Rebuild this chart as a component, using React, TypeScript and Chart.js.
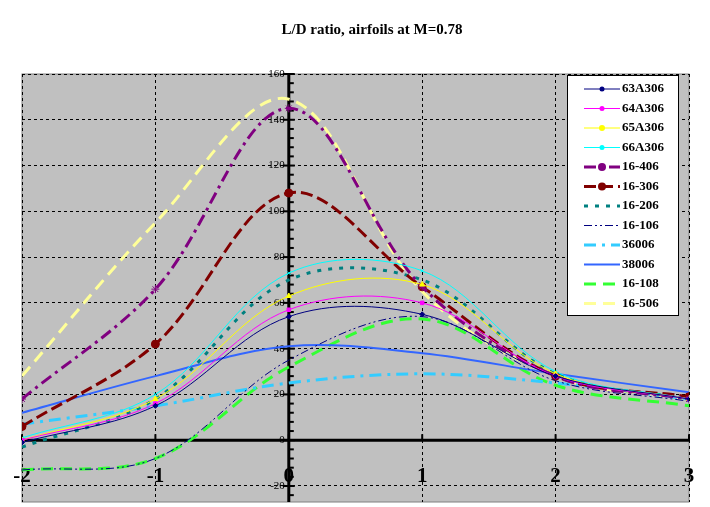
import React, { useEffect, useRef } from "react";
import { Chart, registerables } from "chart.js";
Chart.register(...registerables);

const xs = [-2, -1, 0, 1, 2, 3];
const names = ["63A306","64A306","65A306","66A306","16-406","16-306","16-206","16-106","36006","38006","16-108","16-506"];
const v63A306 = [-1, 15, 54, 55, 28, 18];
const v64A306 = [0, 16, 57, 60, 28, 18];
const v65A306 = [0, 18, 63, 68, 29, 18];
const v66A306 = [1, 20, 73, 74, 30, 18];
const v16_406 = [18, 66, 145, 67, 28, 18];
const v16_306 = [6, 42, 108, 67, 28, 19];
const v16_206 = [-3, 18, 70, 70, 29, 18];
const v16_106 = [-13, -8, 35, 54, 26, 17];
const v36006 = [7, 15, 25, 29, 25, 18];
const v38006 = [12, 28, 41, 38, 29, 21];
const v16_108 = [-13, -8, 32, 53, 24, 15];
const v16_506 = [28, 95, 149, 65, 28, 18];
const series = [v63A306,v64A306,v65A306,v66A306,v16_406,v16_306,v16_206,v16_106,v36006,v38006,v16_108,v16_506];
const yTicks = [-20, 0, 20, 40, 60, 80, 100, 120, 140, 160];
const xTicks = [-2, -1, 0, 1, 2, 3];

const styles: any[] = [
  { c: "#000080", w: 1, d: [], p: "rectRot", r: 2.5 },
  { c: "#FF00FF", w: 1, d: [], p: "rect", r: 2.5 },
  { c: "#FFFF00", w: 1, d: [], p: "triangle", r: 3 },
  { c: "#00FFFF", w: 1, d: [], p: "crossRot", r: 2.5 },
  { c: "#800080", w: 3, d: [12, 5, 3, 5], p: "star", r: 4 },
  { c: "#800000", w: 3, d: [12, 5], p: "circle", r: 4 },
  { c: "#008080", w: 3, d: [4, 7], p: false, r: 0 },
  { c: "#000080", w: 1, d: [8, 3, 2, 3, 2, 3], p: false, r: 0 },
  { c: "#33CCFF", w: 3, d: [12, 6, 3, 6], p: false, r: 0 },
  { c: "#3366FF", w: 2, d: [], p: false, r: 0 },
  { c: "#33FF33", w: 3, d: [12, 7], p: false, r: 0 },
  { c: "#FFFF99", w: 3, d: [12, 7], p: false, r: 0 },
];

const extras = {
  id: "extras",
  beforeDraw(chart: any) {
    const { ctx, chartArea: a } = chart;
    ctx.save();
    ctx.fillStyle = "#C0C0C0";
    ctx.fillRect(a.left, a.top, a.right - a.left, a.bottom - a.top);
    ctx.strokeStyle = "#808080";
    ctx.lineWidth = 1;
    ctx.strokeRect(a.left, a.top, a.right - a.left, a.bottom - a.top);
    ctx.restore();
  },
  beforeDatasetsDraw(chart: any) {
    const { ctx, chartArea: a } = chart;
    const xs_ = chart.scales.x, ys_ = chart.scales.y;
    const x0 = xs_.getPixelForValue(0), y0 = ys_.getPixelForValue(0);
    ctx.save();
    ctx.strokeStyle = "#000"; ctx.lineWidth = 3;
    ctx.beginPath(); ctx.moveTo(a.left, y0); ctx.lineTo(a.right, y0); ctx.stroke();
    ctx.beginPath(); ctx.moveTo(x0, a.top); ctx.lineTo(x0, a.bottom); ctx.stroke();
    ctx.lineWidth = 2;
    for (let v = -24; v <= 160; v += 4) {
      const y = ys_.getPixelForValue(v);
      const big = v % 20 === 0;
      ctx.beginPath(); ctx.moveTo(x0 - (big ? 6 : 0), y); ctx.lineTo(x0 + (big ? 6 : 5), y); ctx.stroke();
    }
    xTicks.forEach((t) => {
      const x = xs_.getPixelForValue(t);
      ctx.beginPath(); ctx.moveTo(x, y0); ctx.lineTo(x, y0 - 6); ctx.stroke();
    });
    ctx.fillStyle = "#000";
    ctx.font = "11px 'Liberation Serif', serif";
    ctx.textAlign = "right"; ctx.textBaseline = "middle";
    yTicks.forEach((v) => ctx.fillText(String(v), x0 - 4, ys_.getPixelForValue(v)));
    ctx.textAlign = "center";
    ctx.font = "bold 21px 'Liberation Serif', serif";
    xTicks.forEach((t) => ctx.fillText(String(t), xs_.getPixelForValue(t), y0 + 36));
    ctx.restore();
  },
  afterDraw(chart: any) {
    const { ctx } = chart;
    ctx.save();
    ctx.fillStyle = "#000";
    ctx.font = "bold 15px 'Liberation Serif', serif";
    ctx.textAlign = "center";
    ctx.textBaseline = "middle";
    ctx.fillText("L/D ratio, airfoils at M=0.78", 372, 30);
    const L = 567, T = 75, W = 111, H = 240;
    ctx.fillStyle = "#fff"; ctx.fillRect(L, T, W, H);
    ctx.strokeStyle = "#000"; ctx.lineWidth = 1; ctx.strokeRect(L + 0.5, T + 0.5, W, H);
    ctx.font = "bold 13px 'Liberation Serif', serif";
    ctx.textAlign = "left";
    names.forEach((n, i) => {
      const s = styles[i];
      const y = T + 14 + i * 19.5;
      ctx.strokeStyle = s.c; ctx.lineWidth = s.w; ctx.setLineDash(s.d);
      ctx.beginPath(); ctx.moveTo(584, y); ctx.lineTo(620, y); ctx.stroke();
      ctx.setLineDash([]);
      if (s.p) {
        ctx.fillStyle = s.c;
        ctx.beginPath(); ctx.arc(602, y, s.r, 0, Math.PI * 2); ctx.fill();
      }
      ctx.fillStyle = "#000";
      ctx.fillText(n, 622, y);
    });
    ctx.restore();
  },
};

export default function App() {
  const ref = useRef<HTMLCanvasElement>(null);
  useEffect(() => {
    const chart = new Chart(ref.current!, {
      type: "line",
      data: {
        datasets: series.map((vals, i) => ({
          label: names[i],
          data: vals.map((v, j) => ({ x: xs[j], y: v })),
          borderColor: styles[i].c,
          backgroundColor: styles[i].c,
          borderWidth: styles[i].w,
          borderDash: styles[i].d,
          pointStyle: styles[i].p,
          pointRadius: styles[i].r,
          pointBorderWidth: 1,
          tension: 0.35,
          fill: false,
        })),
      },
      options: {
        animation: false,
        responsive: false,
        layout: { padding: { left: 22, right: 21, top: 74, bottom: 2 } },
        plugins: { legend: { display: false }, title: { display: false }, tooltip: { enabled: false } },
        scales: {
          x: {
            type: "linear", min: -2, max: 3, position: { y: 0 } as any,
            afterBuildTicks: (s: any) => { s.ticks = xTicks.map((v) => ({ value: v })); },
            ticks: { display: false },
            grid: { color: "#000", lineWidth: 1, drawTicks: false },
            border: { display: false, dash: [3, 3] },
          },
          y: {
            min: -27, max: 160, position: { x: 0 } as any,
            afterBuildTicks: (s: any) => { s.ticks = yTicks.map((v) => ({ value: v })); },
            ticks: { display: false },
            grid: { color: "#000", lineWidth: 1, drawTicks: false },
            border: { display: false, dash: [3, 3] },
          },
        },
      },
      plugins: [extras],
    });
    return () => chart.destroy();
  }, []);
  return (
    <div style={{ position: "fixed", left: 0, top: 0, background: "#fff" }}>
      <canvas ref={ref} width={710} height={507} />
    </div>
  );
}
